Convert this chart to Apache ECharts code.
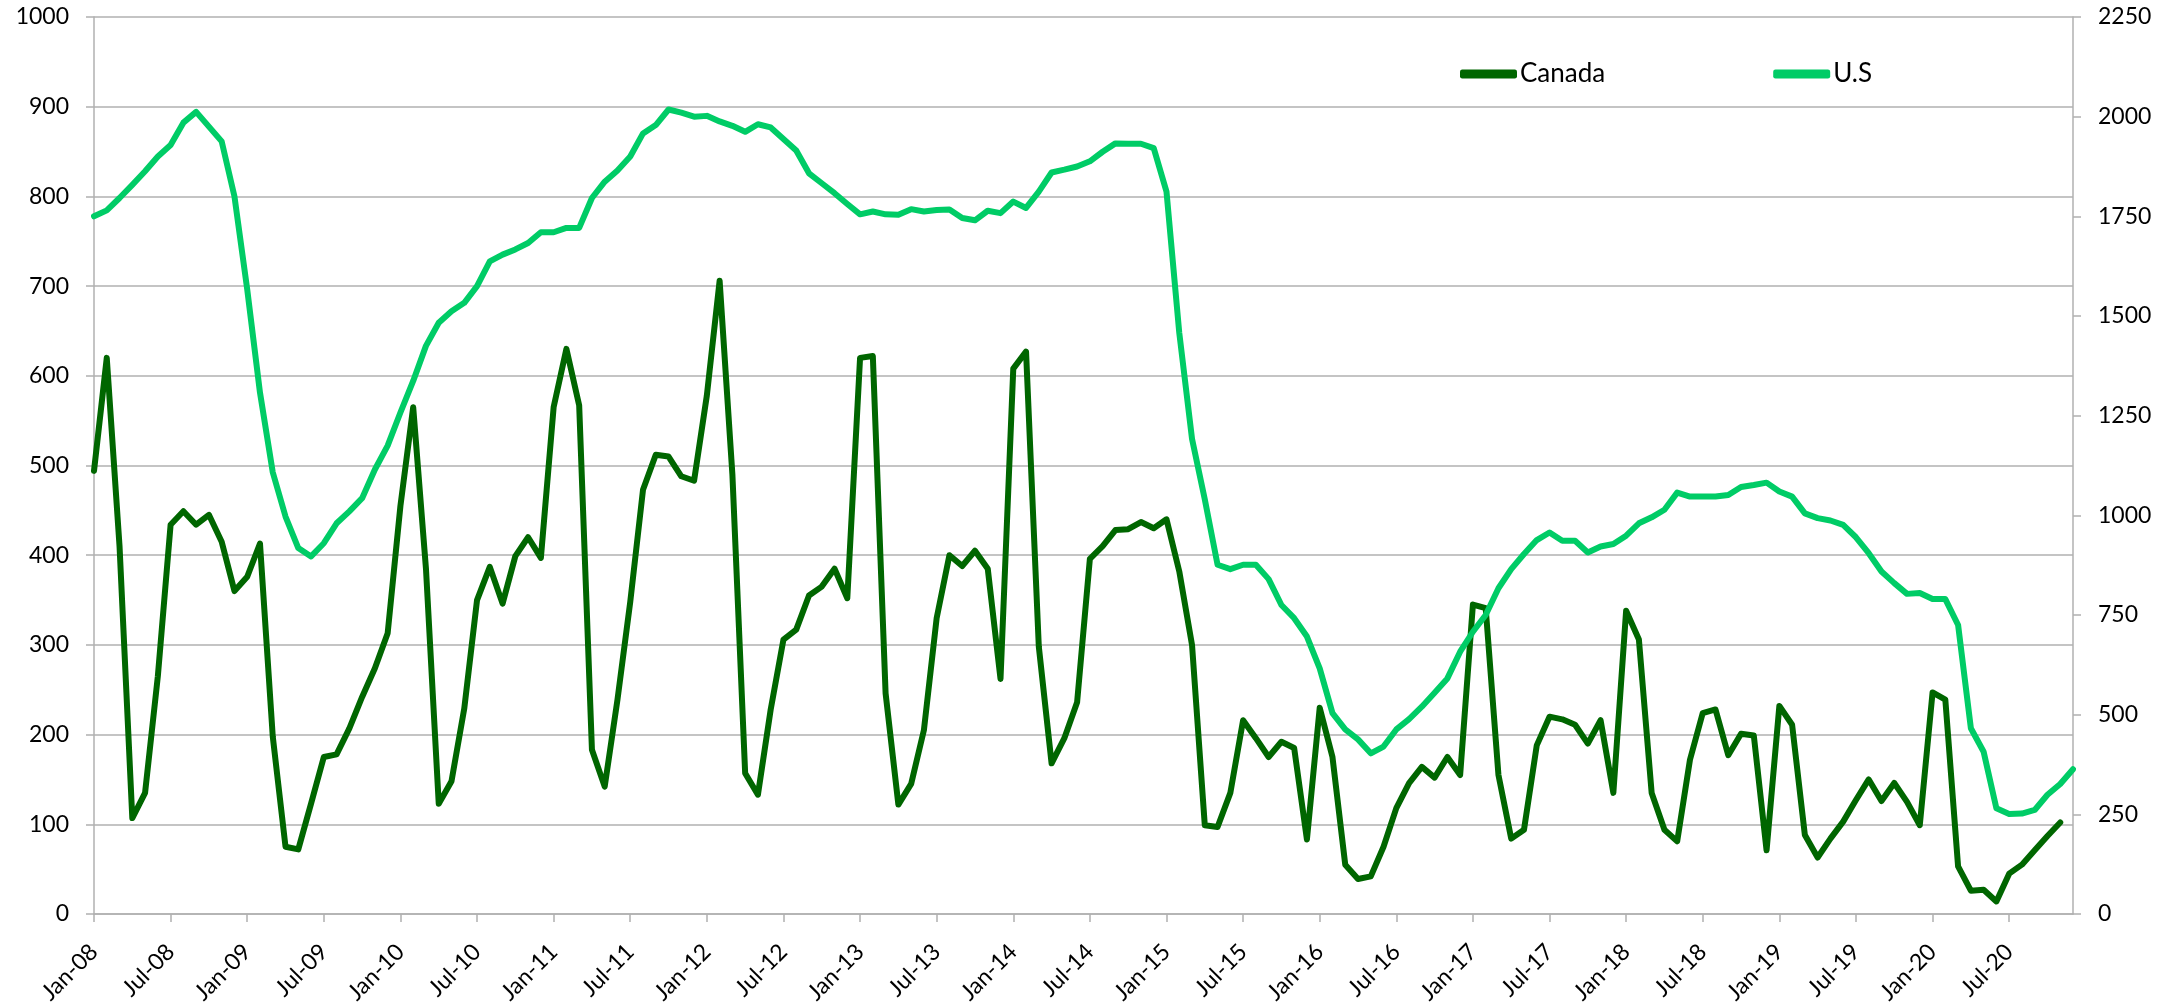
<!DOCTYPE html>
<html>
<head>
<meta charset="utf-8">
<title>Canada vs U.S</title>
<script src="https://cdn.jsdelivr.net/npm/echarts@6/dist/echarts.min.js"></script>
<style>
    html, body { margin: 0; padding: 0; background: #fff; }
    #chart { width: 2181px; height: 1004px; }
</style>
</head>
<body>
<div id="chart"></div>
<script>
// months Jan-08 .. Dec-20
var months = [
    'Jan-08','Feb-08','Mar-08','Apr-08','May-08','Jun-08','Jul-08','Aug-08','Sep-08','Oct-08','Nov-08','Dec-08',
    'Jan-09','Feb-09','Mar-09','Apr-09','May-09','Jun-09','Jul-09','Aug-09','Sep-09','Oct-09','Nov-09','Dec-09',
    'Jan-10','Feb-10','Mar-10','Apr-10','May-10','Jun-10','Jul-10','Aug-10','Sep-10','Oct-10','Nov-10','Dec-10',
    'Jan-11','Feb-11','Mar-11','Apr-11','May-11','Jun-11','Jul-11','Aug-11','Sep-11','Oct-11','Nov-11','Dec-11',
    'Jan-12','Feb-12','Mar-12','Apr-12','May-12','Jun-12','Jul-12','Aug-12','Sep-12','Oct-12','Nov-12','Dec-12',
    'Jan-13','Feb-13','Mar-13','Apr-13','May-13','Jun-13','Jul-13','Aug-13','Sep-13','Oct-13','Nov-13','Dec-13',
    'Jan-14','Feb-14','Mar-14','Apr-14','May-14','Jun-14','Jul-14','Aug-14','Sep-14','Oct-14','Nov-14','Dec-14',
    'Jan-15','Feb-15','Mar-15','Apr-15','May-15','Jun-15','Jul-15','Aug-15','Sep-15','Oct-15','Nov-15','Dec-15',
    'Jan-16','Feb-16','Mar-16','Apr-16','May-16','Jun-16','Jul-16','Aug-16','Sep-16','Oct-16','Nov-16','Dec-16',
    'Jan-17','Feb-17','Mar-17','Apr-17','May-17','Jun-17','Jul-17','Aug-17','Sep-17','Oct-17','Nov-17','Dec-17',
    'Jan-18','Feb-18','Mar-18','Apr-18','May-18','Jun-18','Jul-18','Aug-18','Sep-18','Oct-18','Nov-18','Dec-18',
    'Jan-19','Feb-19','Mar-19','Apr-19','May-19','Jun-19','Jul-19','Aug-19','Sep-19','Oct-19','Nov-19','Dec-19',
    'Jan-20','Feb-20','Mar-20','Apr-20','May-20','Jun-20','Jul-20','Aug-20','Sep-20','Oct-20','Nov-20','Dec-20'
];

// Canada - left axis
var canada = [
    494, 620, 410, 107, 135, 265, 434, 449, 434, 445, 415, 360,
    376, 413, 198, 75, 72, 123, 175, 178, 207, 242, 274, 313,
    455, 565, 385, 123, 148, 229, 350, 387, 346, 399, 420, 397,
    565, 630, 567, 183, 142, 239, 348, 473, 512, 510, 488, 483,
    578, 706, 490, 157, 133, 228, 306, 317, 355, 365, 385, 352,
    620, 622, 246, 122, 145, 205, 330, 400, 388, 405, 385, 262,
    608, 627, 298, 168, 196, 236, 396, 410, 428, 429, 437, 430,
    440, 382, 300, 99, 97, 135, 216, 196, 175, 192, 185, 83,
    230, 175, 55, 39, 42, 75, 118, 146, 164, 152, 175, 155,
    345, 341, 155, 84, 94, 188, 220, 217, 211, 190, 216, 135,
    338, 306, 135, 94, 81, 172, 224, 228, 177, 201, 199, 71,
    232, 211, 88, 63, 84, 103, 127, 150, 126, 146, 125, 99,
    247, 239, 53, 26, 27, 14, 45, 55, 71, 87, 102, null
];

// U.S - right axis
var us = [
    1750, 1765, 1796, 1829, 1863, 1900, 1929, 1985, 2012, 1975, 1938, 1800,
    1567, 1308, 1108, 997, 918, 897, 930, 980, 1010, 1043, 1115, 1175,
    1258, 1337, 1425, 1483, 1512, 1533, 1575, 1637, 1654, 1667, 1683, 1710,
    1710, 1721, 1721, 1796, 1837, 1865, 1900, 1958, 1979, 2018, 2010, 2000,
    2002, 1988, 1977, 1962, 1981, 1973, 1944, 1915, 1858, 1833, 1808, 1781,
    1755, 1762, 1755, 1754, 1768, 1762, 1766, 1767, 1746, 1740, 1764, 1758,
    1787, 1771, 1812, 1860, 1867, 1875, 1888, 1912, 1933, 1932, 1932, 1921,
    1812, 1458, 1192, 1040, 876, 865, 876, 876, 840, 775, 742, 696,
    616, 504, 463, 438, 403, 420, 463, 489, 520, 555, 591, 658,
    708, 750, 817, 865, 903, 938, 957, 936, 936, 907, 922, 928,
    949, 980, 995, 1014, 1057, 1047, 1047, 1047, 1051, 1071, 1076, 1082,
    1060, 1047, 1005, 993, 987, 976, 945, 905, 859, 830, 803, 805,
    790, 790, 725, 466, 407, 265, 251, 252, 261, 299, 326, 363
];

var canadaColor = '#006600';
var usColor = '#00cc66';
var gridColor = '#b0b0b0';
var fontName = 'Lato';

// plain numbers, no thousands separator
function plain(v) {
    return String(v);
}

var dom = document.getElementById('chart');
var myChart = echarts.init(dom);
var option = null;
option = {
    animation: false,
    backgroundColor: '#fff',
    textStyle: { fontFamily: fontName },
    grid: {
        left: 94,
        right: 108,
        top: 17,
        bottom: 90,
        outerBoundsMode: 'none'
    },
    legend: {
        left: 1455,
        top: 56,
        itemWidth: 57,
        itemHeight: 9,
        itemGap: 168,
        icon: 'roundRect',
        textStyle: { fontFamily: fontName, fontSize: 26, color: '#000', padding: [0, 0, 0, -2] },
        data: ['Canada', 'U.S']
    },
    xAxis: {
        type: 'category',
        boundaryGap: false,
        data: months,
        axisLine: { lineStyle: { color: gridColor, width: 1.5 } },
        axisTick: { show: true, interval: 5, length: 8, lineStyle: { color: gridColor, width: 1.5 } },
        axisLabel: {
            interval: 5,
            rotate: 45,
            margin: 34,
            fontSize: 23,
            color: '#000',
            fontFamily: fontName
        },
        splitLine: { show: false }
    },
    yAxis: [
        {
            type: 'value',
            min: 0,
            max: 1000,
            interval: 100,
            position: 'left',
            axisLine: { show: true, lineStyle: { color: gridColor, width: 1.5 } },
            axisTick: { show: true, length: 8, lineStyle: { color: gridColor, width: 1.5 } },
            axisLabel: { margin: 25, fontSize: 23, color: '#000', fontFamily: fontName, formatter: plain },
            splitLine: { show: true, lineStyle: { color: gridColor, width: 1.5 } }
        },
        {
            type: 'value',
            min: 0,
            max: 2250,
            interval: 250,
            position: 'right',
            axisLine: { show: true, lineStyle: { color: gridColor, width: 1.5 } },
            axisTick: { show: true, length: 8, lineStyle: { color: gridColor, width: 1.5 } },
            axisLabel: { margin: 25, fontSize: 23, color: '#000', fontFamily: fontName, formatter: plain },
            splitLine: { show: false }
        }
    ],
    series: [
        {
            name: 'Canada',
            type: 'line',
            yAxisIndex: 0,
            data: canada,
            symbol: 'none',
            color: canadaColor,
            lineStyle: { color: canadaColor, width: 6, cap: 'round', join: 'round' }
        },
        {
            name: 'U.S',
            type: 'line',
            yAxisIndex: 1,
            data: us,
            symbol: 'none',
            color: usColor,
            lineStyle: { color: usColor, width: 6, cap: 'round', join: 'round' }
        }
    ]
};

if (option && typeof option === "object") {
    myChart.setOption(option, true);
}
</script>
</body>
</html>
